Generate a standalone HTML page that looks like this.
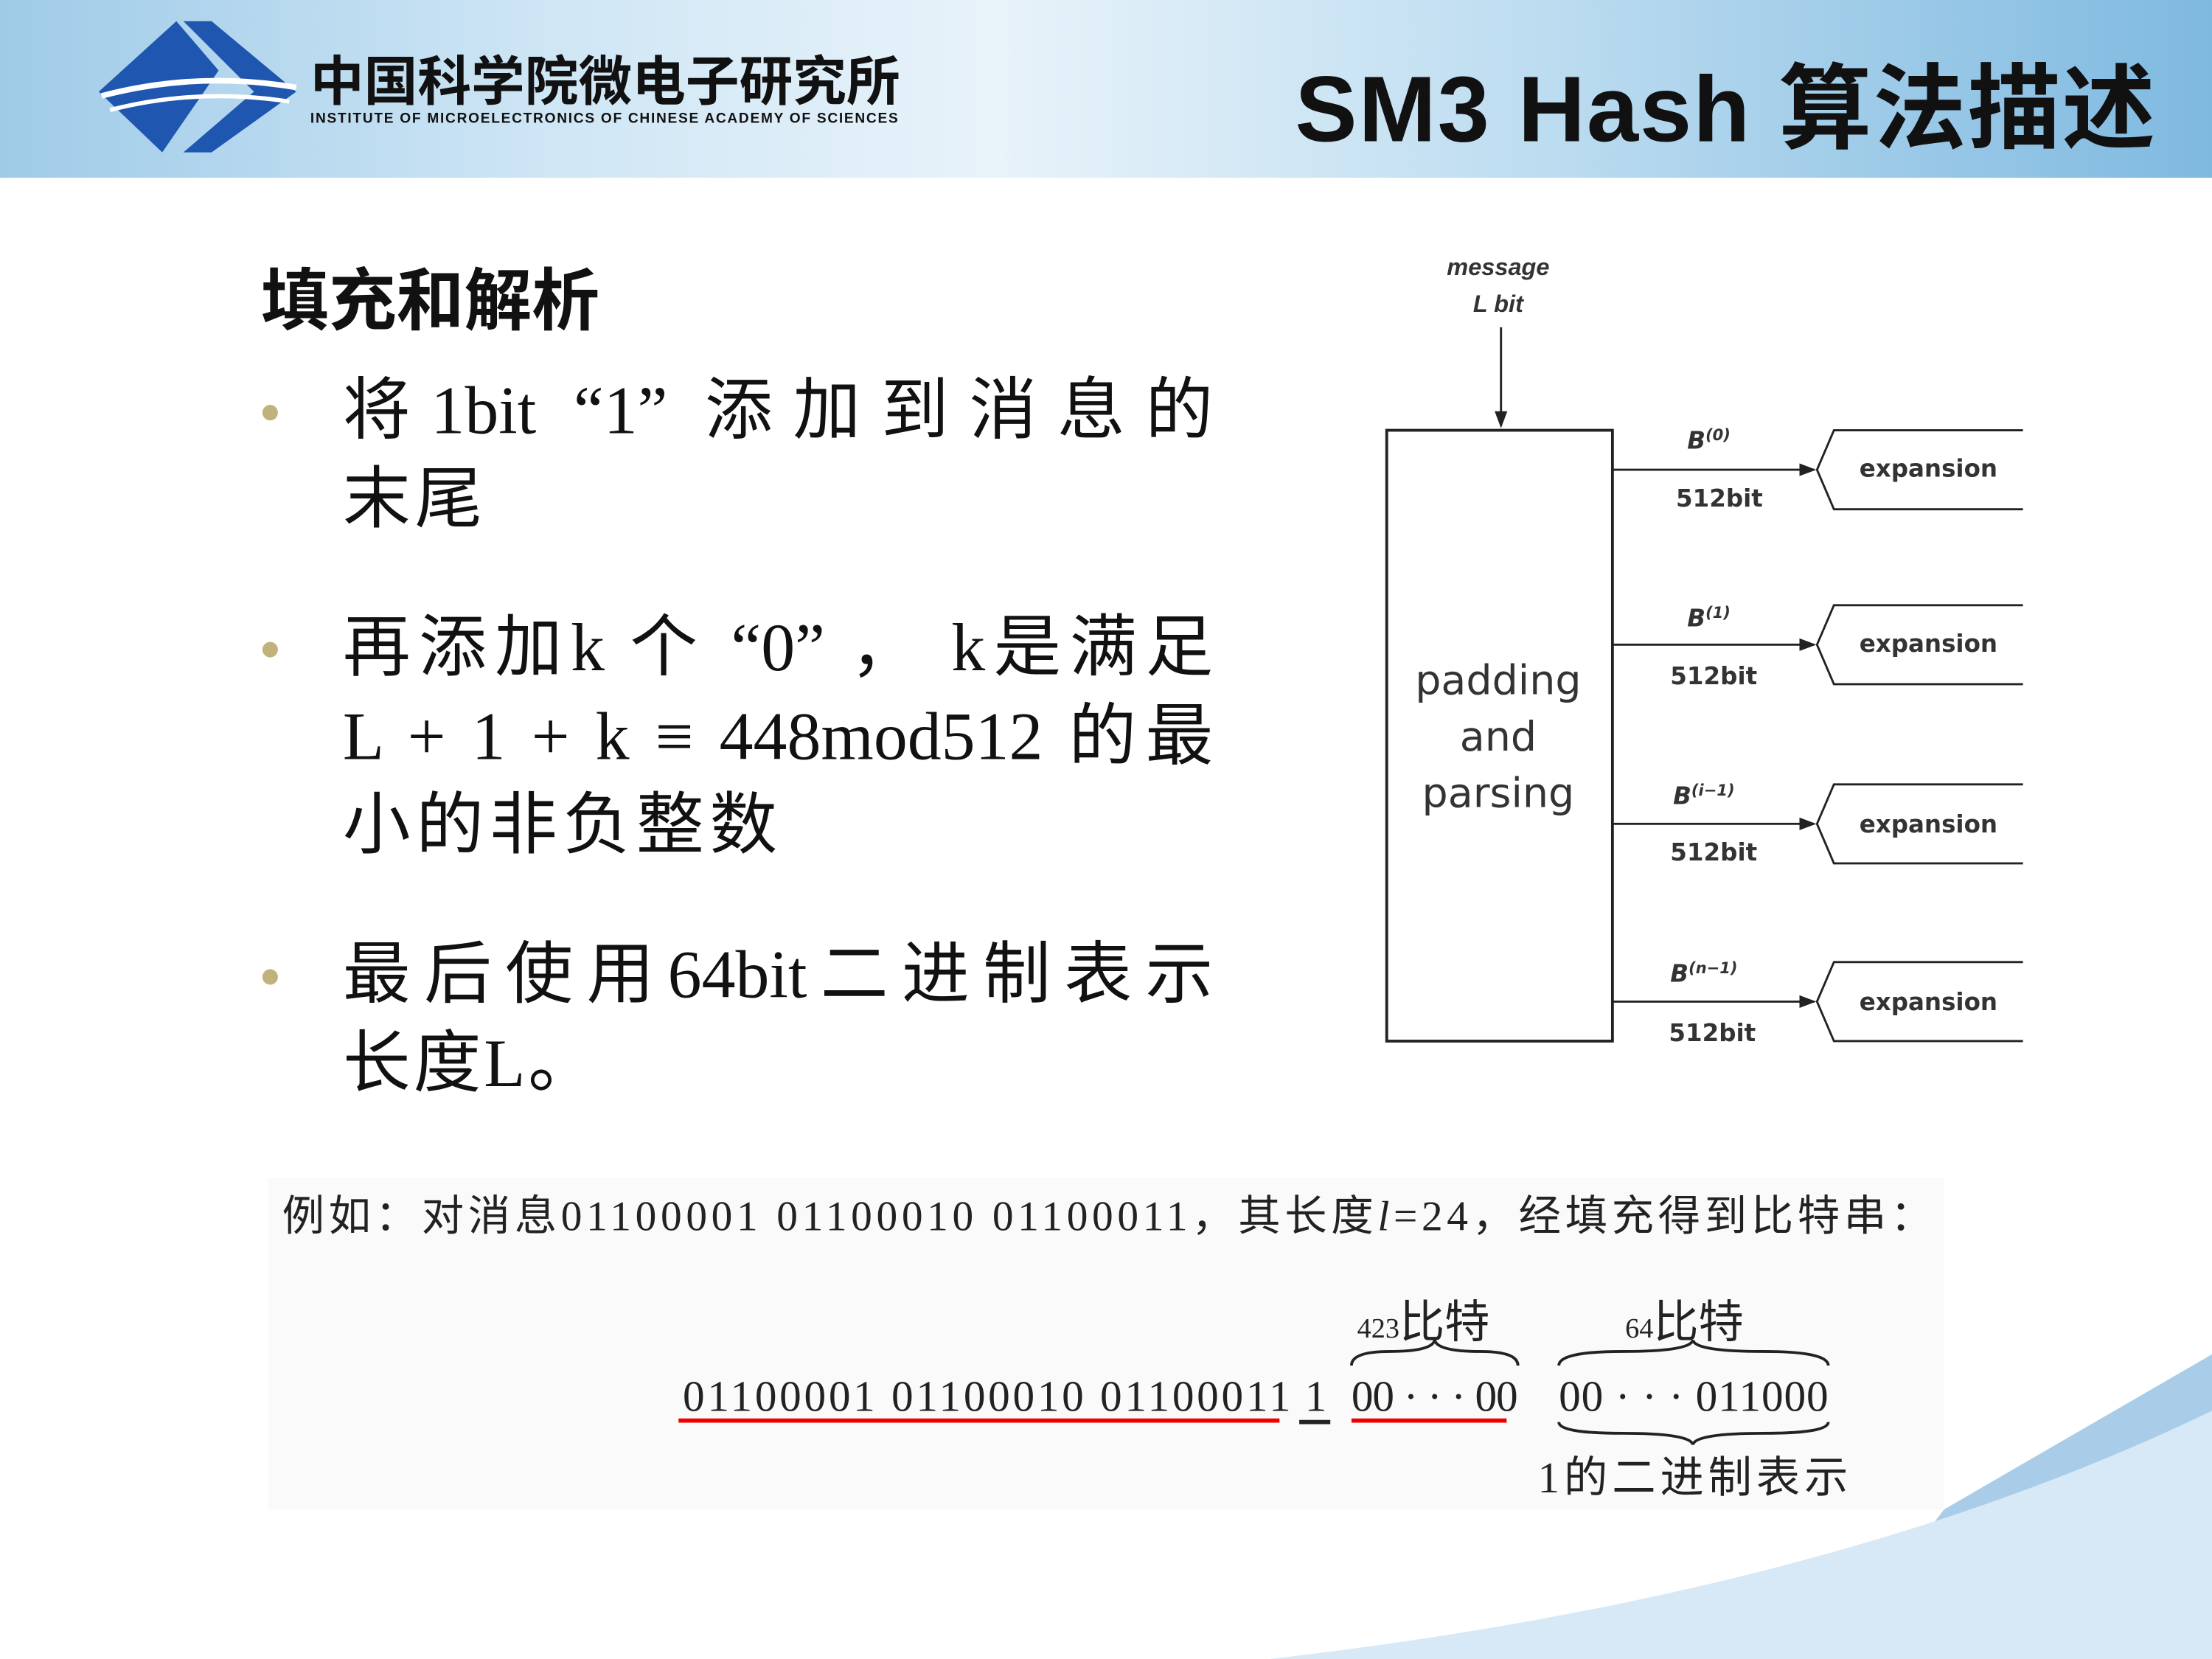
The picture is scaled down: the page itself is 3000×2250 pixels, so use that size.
<!DOCTYPE html>
<html><head><meta charset="utf-8"><style>
html,body{margin:0;padding:0;width:3000px;height:2250px;overflow:hidden;background:#fff}
#s{position:absolute;left:0;top:0;width:1568px;height:1176px;transform:scale(1.91327);transform-origin:0 0;font-family:"Liberation Sans","Noto Sans CJK SC",sans-serif;}
.a{position:absolute;white-space:nowrap}
.b{font-family:"Liberation Serif","Noto Sans CJK SC",serif;font-size:48px;color:#111;left:243px;line-height:63px;width:617px}
.j{display:block;text-align:justify;text-align-last:justify;white-space:normal}
.dot{position:absolute;left:186px;width:11px;height:11px;border-radius:50%;background:#c0b27a}
</style></head><body><div id="s">
<div class="a" style="left:0;top:0;width:1568px;height:126px;background:linear-gradient(90deg,#9fcbe8 0%,#cfe6f5 25%,#e8f3fa 45%,#bcdcf0 70%,#7fb9e0 100%)"></div>
<svg class="a" style="left:60px;top:10px" width="160" height="105" viewBox="0 0 160 105">
<polygon points="10,55 65,5 95,40 55,98" fill="#1f56b0"/>
<polygon points="70,5 90,5 150,55 90,98 70,98 120,55" fill="#1f56b0"/>
<path d="M12,58 Q80,40 150,52" stroke="#fff" stroke-width="4" fill="none"/>
<path d="M18,68 Q80,52 145,62" stroke="#fff" stroke-width="3" fill="none"/>
</svg>
<div class="a" style="left:220px;top:40px;font-size:38px;line-height:38px;font-weight:bold;color:#111">中国科学院微电子研究所</div>
<div class="a" style="left:220px;top:79px;font-size:10px;font-weight:bold;color:#111;letter-spacing:0.9px">INSTITUTE OF MICROELECTRONICS OF CHINESE ACADEMY OF SCIENCES</div>
<div class="a" style="left:918px;top:24px;font-size:66px;font-weight:bold;color:#111;letter-spacing:1px">SM3 Hash 算法描述</div>

<div class="a" style="left:185px;top:174px;font-size:48px;font-weight:bold;color:#111">填充和解析</div>
<div class="dot" style="top:287px"></div>
<div class="dot" style="top:455px"></div>
<div class="dot" style="top:687px"></div>
<div class="a b" style="top:260px"><span class="j">将1bit “1” 添加到消息的</span><span style="letter-spacing:3px">末尾</span></div>
<div class="a b" style="top:428px"><span class="j">再添加k 个 “0” ， k是满足</span><span class="j">L + 1 + k ≡ 448mod512 的最</span><span style="letter-spacing:4px">小的非负整数</span></div>
<div class="a b" style="top:660px"><span class="j">最后使用64bit二进制表示</span><span style="letter-spacing:2px">长度L。</span></div>

<svg class="a" style="left:0;top:0" width="1568" height="1176">
<defs><marker id="m" markerWidth="8" markerHeight="8" refX="7" refY="4" orient="auto"><path d="M0,1 L8,4 L0,7Z" fill="#222"/></marker></defs>
<g font-family="Liberation Sans,sans-serif" fill="#333">
<text x="1062" y="195" font-size="17" font-style="italic" font-weight="bold" text-anchor="middle">message</text>
<text x="1062" y="221" font-size="17" font-style="italic" font-weight="bold" text-anchor="middle">L bit</text>
</g>
<line x1="1064" y1="232" x2="1064" y2="302" stroke="#222" stroke-width="1.5" marker-end="url(#m)"/>
<rect x="983" y="305" width="160" height="433" fill="#fff" stroke="#222" stroke-width="2"/>
<g font-size="29" fill="#333" text-anchor="middle" font-family="DejaVu Sans,sans-serif">
<text x="1062" y="492">padding</text><text x="1062" y="532">and</text><text x="1062" y="572">parsing</text></g>
<g font-family="DejaVu Sans,sans-serif" fill="#333" font-size="17" font-weight="bold">
<line x1="1143" y1="333" x2="1286" y2="333" stroke="#222" stroke-width="1.5" marker-end="url(#m)"/>
<path d="M1434,305 L1300,305 L1288,333 L1300,361 L1434,361" fill="none" stroke="#222" stroke-width="1.5"/>
<text x="1318" y="338">expansion</text><text x="1196" y="318" font-style="italic">B<tspan font-size="11" dy="-6">(0)</tspan></text><text x="1188" y="359">512bit</text>
<line x1="1143" y1="457" x2="1286" y2="457" stroke="#222" stroke-width="1.5" marker-end="url(#m)"/>
<path d="M1434,429 L1300,429 L1288,457 L1300,485 L1434,485" fill="none" stroke="#222" stroke-width="1.5"/>
<text x="1318" y="462">expansion</text><text x="1196" y="444" font-style="italic">B<tspan font-size="11" dy="-6">(1)</tspan></text><text x="1184" y="485">512bit</text>
<line x1="1143" y1="584" x2="1286" y2="584" stroke="#222" stroke-width="1.5" marker-end="url(#m)"/>
<path d="M1434,556 L1300,556 L1288,584 L1300,612 L1434,612" fill="none" stroke="#222" stroke-width="1.5"/>
<text x="1318" y="590">expansion</text><text x="1186" y="570" font-style="italic">B<tspan font-size="11" dy="-6">(i−1)</tspan></text><text x="1184" y="610">512bit</text>
<line x1="1143" y1="710" x2="1286" y2="710" stroke="#222" stroke-width="1.5" marker-end="url(#m)"/>
<path d="M1434,682 L1300,682 L1288,710 L1300,738 L1434,738" fill="none" stroke="#222" stroke-width="1.5"/>
<text x="1318" y="716">expansion</text><text x="1184" y="696" font-style="italic">B<tspan font-size="11" dy="-6">(n−1)</tspan></text><text x="1183" y="738">512bit</text>
</g>
<path d="M1378,1070 L1568,960 L1568,1176 L1300,1176 Q1340,1120 1378,1070Z" fill="#a9cde8"/>
<path d="M900,1176 Q1300,1130 1568,1000 L1568,1176Z" fill="#d7e9f6"/>
<rect x="190" y="835" width="1188" height="235" fill="#fafafa"/>
<g font-family="Liberation Serif,Noto Sans CJK SC,serif" fill="#222">
<text x="200" y="872" font-size="30" textLength="1170" lengthAdjust="spacing">例如：对消息01100001 01100010 01100011，其长度<tspan font-style="italic">l</tspan>=24，经填充得到比特串：</text>
<text x="962" y="948" font-size="32"><tspan font-size="20">423</tspan>比特</text>
<text x="1152" y="948" font-size="32"><tspan font-size="20">64</tspan>比特</text>
<text x="484" y="1000" font-size="31" textLength="431" lengthAdjust="spacing">01100001 01100010 01100011</text>
<text x="925" y="1000" font-size="31">1</text>
<text x="958" y="1000" font-size="31" textLength="118" lengthAdjust="spacing">00 · · · 00</text>
<text x="1105" y="1000" font-size="31" textLength="191" lengthAdjust="spacing">00 · · · 011000</text>
<text x="1090" y="1058" font-size="31" textLength="220" lengthAdjust="spacing">1的二进制表示</text>
</g>
<path d="M958,968 Q958,958 985,958 Q1015,958 1017,950 Q1019,958 1049,958 Q1076,958 1076,968" fill="none" stroke="#222" stroke-width="2"/>
<path d="M1105,968 Q1105,958 1150,958 Q1198,958 1200,950 Q1202,958 1250,958 Q1296,958 1296,968" fill="none" stroke="#222" stroke-width="2"/>
<path d="M1105,1008 Q1105,1016 1150,1016 Q1198,1016 1200,1024 Q1202,1016 1250,1016 Q1296,1016 1296,1008" fill="none" stroke="#222" stroke-width="2"/>
<line x1="481" y1="1007" x2="907" y2="1007" stroke="#e00" stroke-width="3"/>
<line x1="921" y1="1008" x2="943" y2="1008" stroke="#222" stroke-width="3"/>
<line x1="958" y1="1007" x2="1068" y2="1007" stroke="#e00" stroke-width="3"/>
</svg>
</div></body></html>
